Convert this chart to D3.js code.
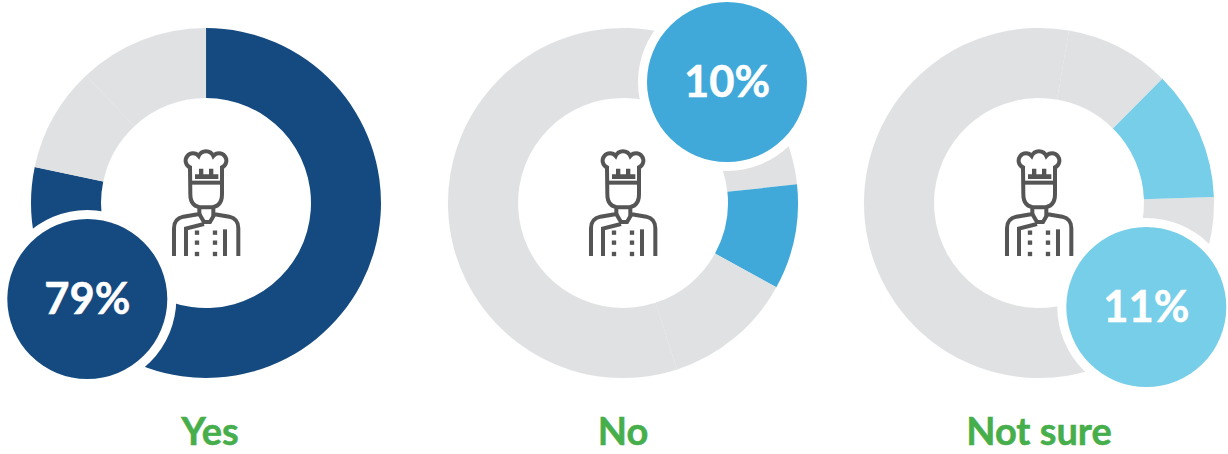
<!DOCTYPE html>
<html>
<head>
<meta charset="utf-8">
<title>Yes / No / Not sure</title>
<style>
body { margin: 0; background: #fff; }
svg { display: block; }
text { font-family: Lato, sans-serif; font-weight: 700; }
.name { font-size: 38px; fill: #46ae4b; stroke: #46ae4b; stroke-width: 0.5; }
.value { font-size: 43.5px; fill: #fff; stroke: #fff; stroke-width: 0.5; }
.chef { fill: none; stroke: #555; stroke-width: 12; }
.chef .solid { fill: #555; stroke: none; }
</style>
</head>
<body>
<svg width="1228" height="454"></svg>
<script src="https://d3js.org/d3.v7.min.js"></script>
<script>
// answers, what the bubbles say, and the ring shares
var categories = ["Yes", "No", "Not sure"];
var valueLabels = ["79%", "10%", "11%"];
var ringShares = [78.3, 9.7, 12];
var highlightColors = ["#154a80", "#40a9d9", "#77cee8"];
var ringGrey = "#e0e1e3";

// layout, one entry per donut
var centersX = [206, 623, 1039];
var startDegrees = [0, 162, 88];
var bubbleDx = [-118.7, 104, 107.3];
var bubbleDy = [96, -121, 104];
var nameX = [210, 623, 1039];

var centerY = 203, outerR = 175, innerR = 105, bubbleR = 80, bubbleGap = 9;

var svg = d3.select("svg");
var arc = d3.arc().innerRadius(innerR).outerRadius(outerR);

function drawChef(g) {
    // icon traced at 3x, scaled back down
    var c = g.append("g").attr("class", "chef").attr("transform", "translate(-56,-73) scale(0.3333)");
    c.append("path").attr("d", "M120 112 A22 22 0 1 1 146 78 A24 24 0 0 1 190 78 A22 22 0 1 1 216 112 V192 Q216 232 180 232 H157 Q121 232 121 192 Z");
    c.append("path").attr("d", "M121 158 H216");
    c.append("path").attr("d", "M148 232 V252 L100 260 Q72 266 72 295 V378");
    c.append("path").attr("d", "M190 232 V252 L238 260 Q265 266 265 295 V378");
    c.append("path").attr("d", "M148 252 L162 276 H180 L194 252");
    c.append("path").attr("d", "M162 282 L108 296 V378");
    c.append("path").attr("class", "solid").attr("d", "M135 133 H147 V116 H160 V133 H177 V116 H190 V133 H205 V147 H135 Z");
    c.append("rect").attr("class", "solid").attr("x", 219).attr("y", 298).attr("width", 12).attr("height", 80);
    [141, 195].forEach(function(x) {
        [308, 338, 372].forEach(function(y) {
            c.append("rect").attr("class", "solid").attr("x", x - 6.5).attr("y", y - 6.5).attr("width", 13).attr("height", 13);
        });
    });
}

categories.forEach(function(name, i) {
    var start = startDegrees[i] * Math.PI / 180;
    var pie = d3.pie().sort(null).startAngle(start).endAngle(start + 2 * Math.PI);

    var g = svg.append("g").attr("transform", "translate(" + centersX[i] + "," + centerY + ")");

    // thin grey stroke softens the hairline between the two grey slices
    g.selectAll("path.slice")
        .data(pie(ringShares))
        .enter().append("path")
        .attr("class", "slice")
        .attr("d", arc)
        .attr("stroke", function(d, j) { return j === i ? "none" : ringGrey; })
        .attr("stroke-width", 0.12)
        .attr("fill", function(d, j) { return j === i ? highlightColors[i] : ringGrey; });

    drawChef(g);

    // white halo first, so the bubble cuts into the ring
    g.append("circle").attr("cx", bubbleDx[i]).attr("cy", bubbleDy[i]).attr("r", bubbleR + bubbleGap).attr("fill", "#fff");
    g.append("circle").attr("cx", bubbleDx[i]).attr("cy", bubbleDy[i]).attr("r", bubbleR).attr("fill", highlightColors[i]);

    g.append("text")
        .attr("class", "value")
        .attr("x", bubbleDx[i])
        .attr("y", bubbleDy[i] + 14.5)
        .attr("text-anchor", "middle")
        .text(valueLabels[i]);

    svg.append("text")
        .attr("class", "name")
        .attr("x", nameX[i])
        .attr("y", 445)
        .attr("text-anchor", "middle")
        .text(name);
});
</script>
</body>
</html>
